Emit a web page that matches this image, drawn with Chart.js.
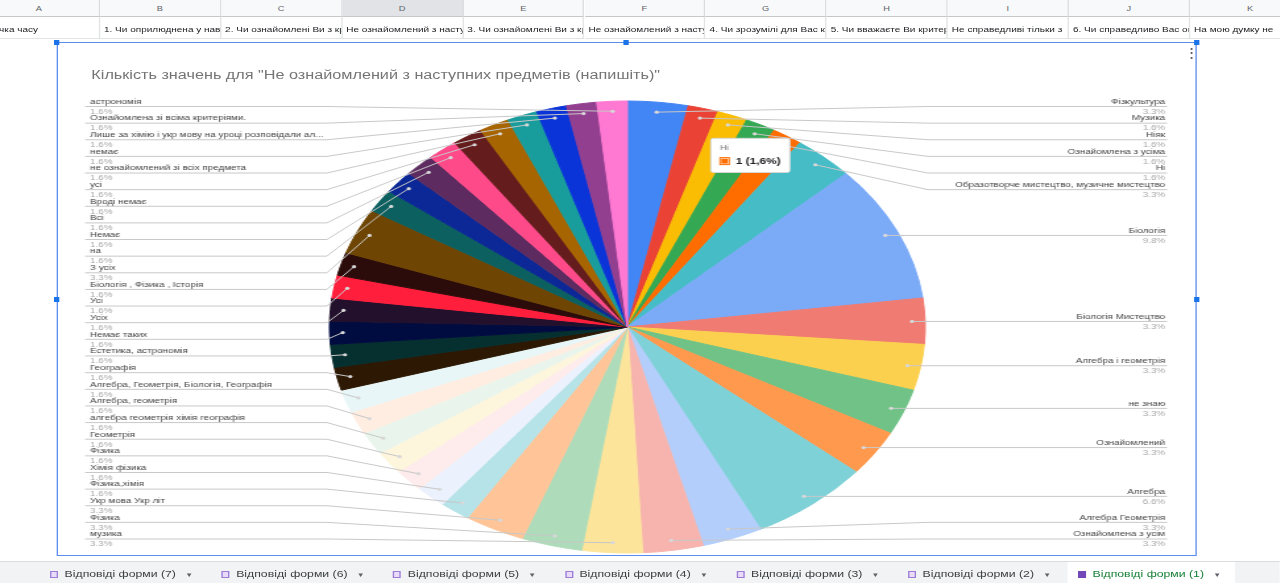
<!DOCTYPE html>
<html>
<head>
<meta charset="utf-8">
<script src="https://cdn.jsdelivr.net/npm/chart.js@4.4.0/dist/chart.umd.min.js"></script>
<style>
    html, body { margin: 0; padding: 0; overflow: hidden; background: #fff; }
    /* the reference is a screenshot stretched sideways, so the whole page is too */
    #page { position: absolute; left: 0; top: 0; width: 971.2px; height: 583px; transform-origin: 0 0; transform: scaleX(1.318); font-family: "Liberation Sans", Arial, sans-serif; overflow: hidden; }
    .col { position: absolute; top: 0; height: 17px; background: #f8f9fa; border-right: 1px solid #dadce0; border-bottom: 1px solid #c7c7c7; box-sizing: border-box; color: #5f6368; font-size: 7px; text-align: center; line-height: 18px; }
    .col.sel { background: #e1e3e6; }
    .cell { position: absolute; top: 17px; height: 22px; border-right: 1px solid #e2e3e3; border-bottom: 1px solid #e2e3e3; box-sizing: border-box; font-size: 7.6px; line-height: 26px; padding-left: 3px; white-space: nowrap; overflow: hidden; color: #202124; }
    #card { position: absolute; left: 43.3px; top: 42px; width: 865px; height: 514px; background: #fff; border: 1px solid #5b8def; box-sizing: border-box; }
    #pie { position: absolute; left: -1px; top: -1px; }
    #title { position: absolute; left: 25px; top: 25px; font-size: 12.3px; color: #757575; white-space: nowrap; }
    #menu { position: absolute; left: 853px; top: 2px; font-size: 13px; color: #5f6368; }
    .handle { position: absolute; width: 4px; height: 5px; background: #1a73e8; }
    #tabs { position: absolute; left: 0; top: 561px; width: 971.2px; height: 22px; background: #f1f3f4; border-top: 1px solid #dadce0; }
    .tab { position: absolute; top: 0; height: 22px; font-size: 9.3px; line-height: 24px; color: #3c4043; white-space: nowrap; }
    .tab.on { background: #fff; color: #188038; }
    .tab i { display: inline-block; width: 6px; height: 7px; margin-right: 5px; vertical-align: -1px; border: 1px solid #9d7cd8; background: #e8dcfa; box-sizing: border-box; }
    .tab.on i { background: #7248b9; border-color: #7248b9; }
    .tab b { font-weight: normal; font-size: 6px; margin-left: 7px; color: #5f6368; }
</style>
</head>
<body>
<div id="page">
    <div id="card">
        <canvas id="pie" width="865" height="514"></canvas>
        <div id="title">Кількість значень для "Не ознайомлений з наступних предметів (напишіть)"</div>
        <div id="menu">⋮</div>
    </div>
    <div id="tabs"></div>
</div>
<script>
// відповіді за годинниковою стрілкою, починаючи згори
const answers = [
    "Фізкультура", "Музика", "Ніяк", "Ознайомлена з усіма", "Ні",
    "Образотворче мистецтво, музичне мистецтво", "Біологія", "Біологія Мистецтво",
    "Алгебра і геометрія", "не знаю", "Ознайомлений", "Алгебра", "Алгебра Геометрія",
    "Ознайомлена з усім", "музика", "Фізика", "Укр мова Укр літ", "Фізика,хімія",
    "Хімія фізика", "Фізика", "Геометрія", "алгебра геометрія хімія географія",
    "Алгебра, геометрія", "Алгебра, Геометрія, Біологія, Географія", "Географія",
    "Естетика, астрономія", "Немає таких", "Усіх", "Усі", "Біологія , Фізика , Історія",
    "З усіх", "на", "Немає", "Всі", "Вроді немає", "усі", "не ознайомлений зі всіх предмета",
    "немає", "Лише за хімію і укр мову на уроці розповідали ал...",
    "Ознайомлена зі всіма критеріями.", "астрономія",
];
const counts = [
    2, 1, 1, 1, 1, 2, 6, 2, 2, 2, 2, 4, 2, 2,
    2, 2, 2, 1, 1, 1, 1, 1, 1, 1, 1, 1, 1, 1, 1, 1, 2, 1, 1, 1, 1, 1, 1, 1, 1, 1, 1,
];
const sliceColors = [
    "#4285f4", "#ea4335", "#fbbc04", "#34a853", "#ff6d01", "#46bdc6", "#7baaf7",
    "#f07b72", "#fcd04f", "#71c287", "#ff994d", "#7ed1d7", "#b3cefb", "#f7b4ae",
    "#fde49b", "#aedcba", "#ffc599", "#b5e3e8", "#ebf1fd", "#fdeceb", "#fef5dd",
    "#e9f5ec", "#ffede1", "#e8f6f7", "#2c1803", "#062f2f", "#000c40", "#22102c",
    "#ff1e3c", "#2b0c0a", "#6e4503", "#0c6060", "#0b2896", "#5d2b60", "#ff4a8a",
    "#651c1c", "#a66500", "#199c9c", "#0a34d8", "#923f90", "#ff78d2",
];
const tooltipAnswer = "Ні";

// шапка таблиці та вкладки аркушів
const columnLetters = ["A", "B", "C", "D", "E", "F", "G", "H", "I", "J", "K"];
const headerCells = [
    "Позначка часу", "1. Чи оприлюднена у навчальному закладі", "2. Чи ознайомлені Ви з критеріями",
    "Не ознайомлений з наступних предметів", "3. Чи ознайомлені Ви з критеріями",
    "Не ознайомлений з наступних предметів", "4. Чи зрозумілі для Вас критерії",
    "5. Чи вважаєте Ви критерії", "Не справедливі тільки з", "6. Чи справедливо Вас оцінюють",
    "На мою думку не",
];
const sheetTabs = ["Відповіді форми (7)", "Відповіді форми (6)", "Відповіді форми (5)", "Відповіді форми (4)",
    "Відповіді форми (3)", "Відповіді форми (2)", "Відповіді форми (1)"];

const page = document.getElementById("page");
columnLetters.forEach((letra, i) => {
    const x = -16 + i * 91.9;
    const c = document.createElement("div");
    c.className = "col" + (letra === "D" ? " sel" : "");
    c.style.left = x + "px";
    c.style.width = "91.9px";
    c.textContent = letra;
    page.appendChild(c);
    const d = document.createElement("div");
    d.className = "cell";
    d.style.left = x + "px";
    d.style.width = "91.9px";
    d.style.textIndent = i === 0 ? "-9px" : "0";
    d.textContent = headerCells[i];
    page.appendChild(d);
});
[[43.3, 42], [475.3, 42], [908.2, 42], [43.3, 299], [908.2, 299]].forEach(([x, y]) => {
    const h = document.createElement("div");
    h.className = "handle";
    h.style.left = x - 2 + "px";
    h.style.top = y - 2.5 + "px";
    page.appendChild(h);
});
const tabs = document.getElementById("tabs");
sheetTabs.forEach((t, i) => {
    const el = document.createElement("div");
    const last = i === sheetTabs.length - 1;
    el.className = "tab" + (last ? " on" : "");
    el.style.left = (last ? 810 : 33 + i * 130.2) + "px";
    el.style.paddingLeft = (last ? 8 : 5) + "px";
    el.style.width = (last ? 119 : 118) + "px";
    el.innerHTML = "<i></i>" + t + "<b>▼</b>";
    tabs.appendChild(el);
});

const total = counts.reduce((a, b) => a + b, 0);
const pct = (v) => ((v / total) * 100).toFixed(1);
const FONT = '"Liberation Sans", Arial, sans-serif';

// розсуває підписи, щоб не накладались (групи центруються навколо бажаних позицій)
function spread(items, top, bottom, gap) {
    let groups = items.map((it) => ({ list: [it], sum: it.want }));
    const place = (g) => {
        const h = (g.list.length - 1) * gap;
        return Math.max(top, Math.min(bottom - h, g.sum / g.list.length - h / 2));
    };
    let changed = true;
    while (changed) {
        changed = false;
        for (let k = 0; k < groups.length - 1; k++) {
            const a = groups[k], b = groups[k + 1];
            if (place(b) < place(a) + a.list.length * gap - 0.01) {
                a.list = a.list.concat(b.list);
                a.sum += b.sum;
                groups.splice(k + 1, 1);
                changed = true;
                break;
            }
        }
    }
    groups.forEach((g) => {
        const t = place(g);
        g.list.forEach((it, j) => (it.y = t + j * gap));
    });
}

const outsideLabels = {
    id: "outsideLabels",
    afterDatasetsDraw(chart) {
        const ctx = chart.ctx;
        const arcs = chart.getDatasetMeta(0).data;
        const left = [], right = [];
        arcs.forEach((arc, i) => {
            const mid = (arc.startAngle + arc.endAngle) / 2;
            const r = arc.outerRadius - 10;
            const p = { i, cx: arc.x, R: arc.outerRadius, px: arc.x + Math.cos(mid) * r, py: arc.y + Math.sin(mid) * r };
            p.want = p.py;
            (Math.cos(mid) >= 0 ? right : left).push(p);
        });
        left.reverse();
        spread(left, 64.5, 497, 16.63);
        spread(right, 64.5, 497, 16.63);
        ctx.save();
        ctx.strokeStyle = "#c8c8c8";
        ctx.lineWidth = 1;
        const draw = (p, side) => {
            const edge = side < 0 ? p.cx - p.R - 2 : p.cx + p.R + 2;
            const start = side < 0 ? 21.5 : 842.5;
            ctx.beginPath();
            ctx.moveTo(start, p.y);
            ctx.lineTo(edge, p.y);
            ctx.lineTo(p.px, p.py);
            ctx.stroke();
            ctx.fillStyle = "#d8d8d8";
            ctx.beginPath();
            ctx.arc(p.px, p.py, 1.6, 0, Math.PI * 2);
            ctx.fill();
        };
        left.forEach((p) => draw(p, -1));
        right.forEach((p) => draw(p, 1));
        const text = (p, side) => {
            const x = side < 0 ? 25.3 : 841;
            ctx.textAlign = side < 0 ? "left" : "right";
            ctx.font = "7.5px " + FONT;
            ctx.fillStyle = "#444444";
            ctx.textBaseline = "bottom";
            ctx.fillText(answers[p.i], x, p.y - 1);
            ctx.fillStyle = "#a8a8a8";
            ctx.textBaseline = "top";
            ctx.fillText(pct(counts[p.i]) + "%", x, p.y + 1.5);
        };
        left.forEach((p) => text(p, -1));
        right.forEach((p) => text(p, 1));
        ctx.restore();
    },
};

// підказка прив'язана до краю сектора
Chart.Tooltip.positioners.rim = function (items) {
    if (!items.length) return false;
    const a = items[0].element;
    const mid = (a.startAngle + a.endAngle) / 2;
    return { x: a.x + Math.cos(mid) * a.outerRadius, y: a.y + Math.sin(mid) * a.outerRadius };
};

const chart = new Chart(document.getElementById("pie"), {
    type: "pie",
    data: {
        labels: answers,
        datasets: [
            {
                data: counts,
                backgroundColor: sliceColors,
                borderColor: sliceColors,
                borderWidth: 1,
                hoverOffset: 0,
            },
        ],
    },
    options: {
        responsive: false,
        animation: false,
        events: [],
        layout: {
            padding: { left: 206.5, right: 205.5, top: 58.5, bottom: 2.5 },
        },
        plugins: {
            legend: { display: false },
            tooltip: {
                position: "rim",
                xAlign: "right",
                yAlign: "top",
                animation: false,
                backgroundColor: "#ffffff",
                borderColor: "#d6d6d6",
                borderWidth: 1,
                cornerRadius: 2,
                caretSize: 0,
                caretPadding: 2,
                padding: { left: 7, right: 7, top: 6, bottom: 6 },
                titleColor: "#757575",
                titleFont: { family: FONT, size: 7, weight: "normal" },
                titleMarginBottom: 3,
                bodyColor: "#202124",
                bodyFont: { family: FONT, size: 9, weight: "bold" },
                boxWidth: 7,
                boxHeight: 7,
                boxPadding: 3,
                callbacks: {
                    title: (items) => items[0].label,
                    label: (item) => item.raw + " (" + pct(item.raw).replace(".", ",") + "%)",
                    labelColor: (item) => ({
                        borderColor: sliceColors[item.dataIndex],
                        backgroundColor: sliceColors[item.dataIndex],
                        borderWidth: 0,
                    }),
                },
            },
        },
    },
    plugins: [outsideLabels],
});
chart.update();
chart.tooltip.setActiveElements([{ datasetIndex: 0, index: answers.indexOf(tooltipAnswer) }], { x: 0, y: 0 });
chart.draw();
</script>
</body>
</html>
